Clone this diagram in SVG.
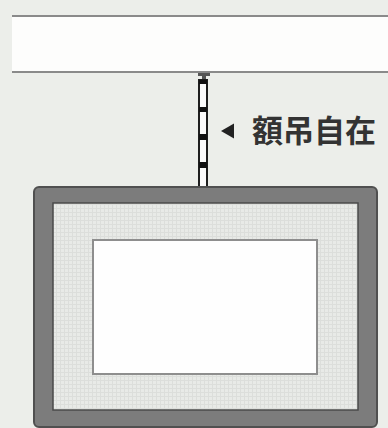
<svg xmlns="http://www.w3.org/2000/svg" width="388" height="428" viewBox="0 0 388 428">
<defs>
<style>
.bg{fill:#eceeea}
.rail{fill:#fdfdfc}
.railline{stroke:#8a8a8a;stroke-width:2}
.frame{fill:#7c7c7c;stroke:#505050;stroke-width:2}
.mat{fill:#e6e8e5;stroke:#4a4a4a;stroke-width:1.5}
.pic{fill:#fefefe;stroke:#8e8e8e;stroke-width:2}
.wire{fill:#fbfbfb;stroke:#1e1e1e;stroke-width:2}
.blk{fill:#111}
.label{font-family:"Noto Sans CJK JP","Noto Sans CJK SC",sans-serif;font-size:31px;font-weight:700;fill:#333}
</style>
<pattern id="grid" width="4" height="4" patternUnits="userSpaceOnUse">
<rect width="4" height="4" fill="#e8eae7"/>
<path d="M0 0.5H4M0.5 0V4" stroke="#dcdedb" stroke-width="1"/>
</pattern>
</defs>
<rect class="bg" width="388" height="428"/>
<g id="rail">
<rect class="rail" x="12" y="16" width="376" height="56"/>
<line class="railline" x1="12" y1="16" x2="388" y2="16"/>
<line class="railline" x1="12" y1="72" x2="388" y2="72"/>
</g>
<g id="connectors">
<rect x="198" y="73" width="12" height="3" fill="#555"/>
<rect x="202" y="75" width="4" height="5" fill="#555"/>
<rect class="wire" x="199" y="80" width="8" height="108"/>
<rect class="blk" x="199" y="80" width="8" height="4"/>
<rect class="blk" x="199" y="107" width="8" height="5"/>
<rect class="blk" x="199" y="134" width="8" height="6"/>
<rect class="blk" x="199" y="162" width="8" height="6"/>
</g>
<g id="label">
<polygon points="221,131 234,123.5 234,138.5" fill="#222"/>
<text class="label" x="252" y="142">額吊自在</text>
</g>
<g id="frame">
<rect class="frame" x="34" y="187" width="343" height="240" rx="5"/>
<rect class="mat" x="53" y="203" width="305" height="207" style="fill:url(#grid)"/>
<rect class="pic" x="93" y="240" width="224" height="134"/>
</g>
</svg>
